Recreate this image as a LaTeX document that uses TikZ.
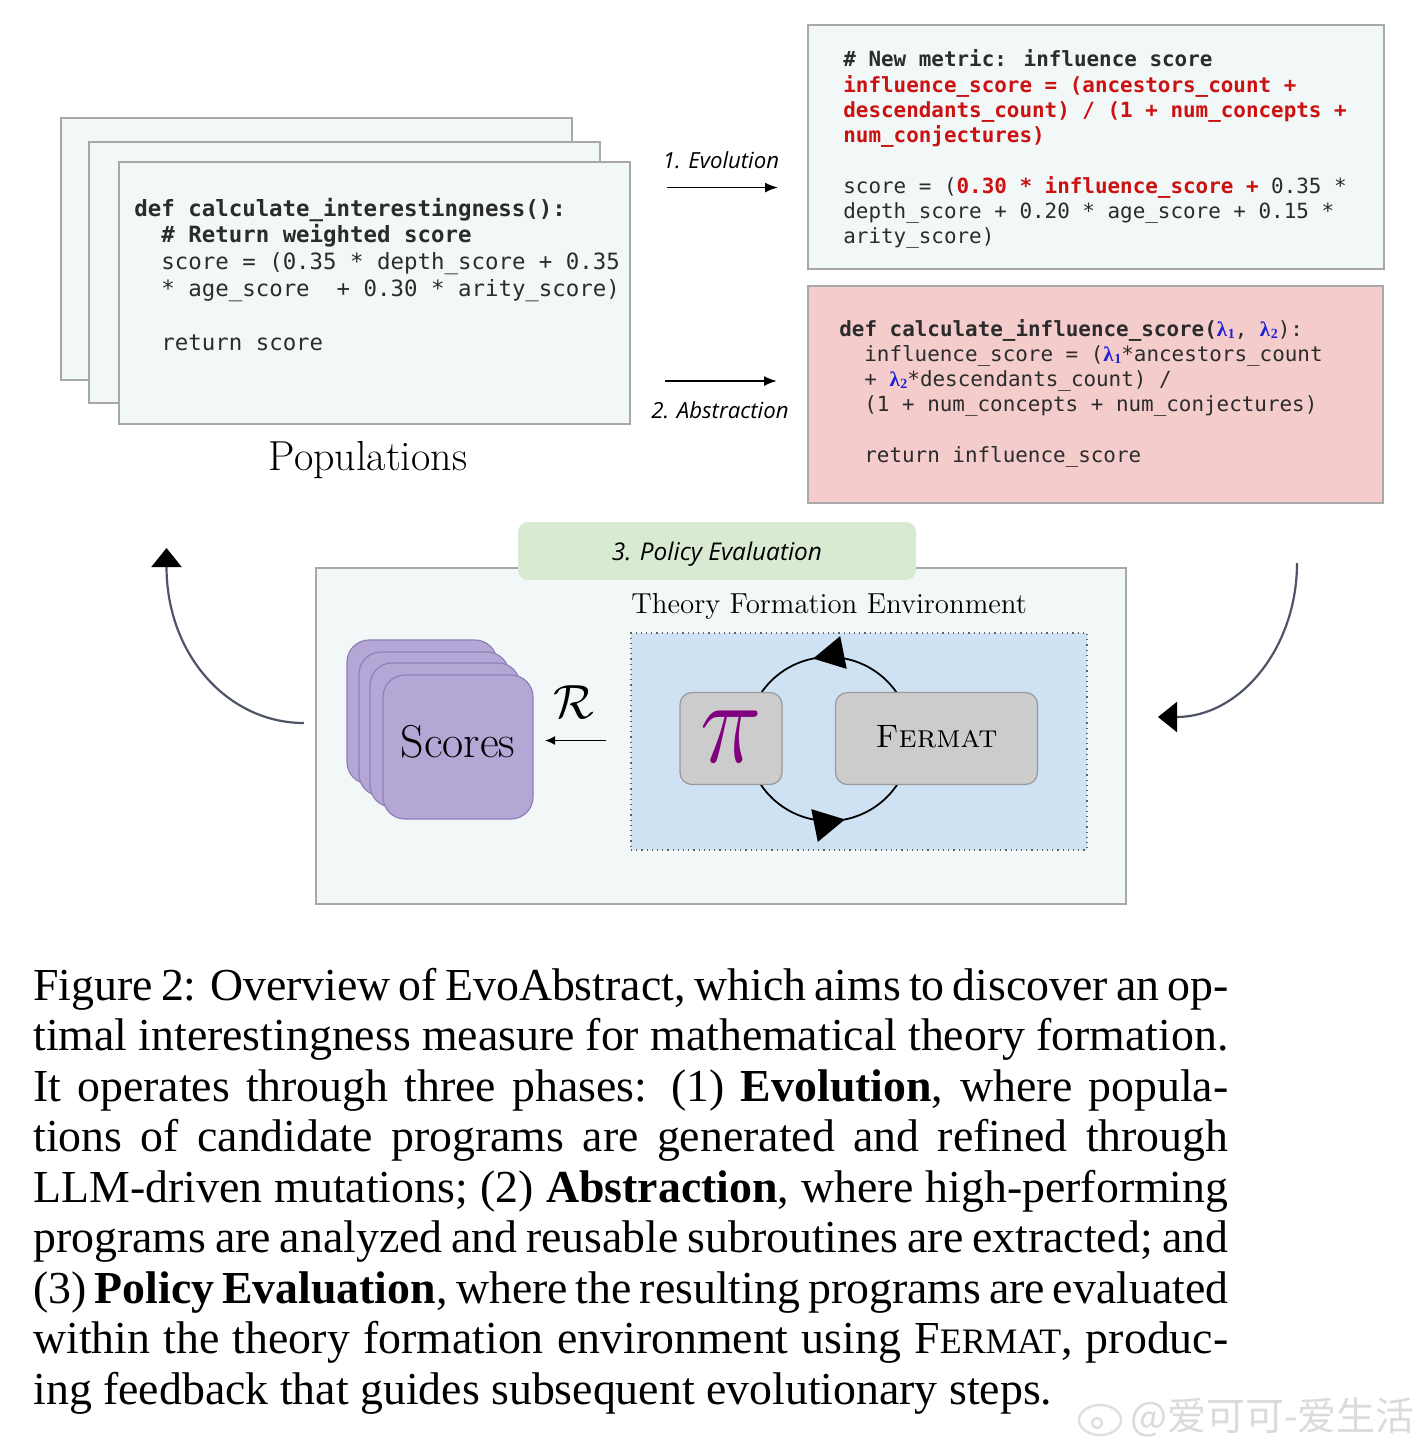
\RequirePackage{fix-cm}
\documentclass[tikz,border=0pt]{standalone}
\usepackage{fontspec}
\usepackage{amsmath}
\usepackage{graphicx}
\usetikzlibrary{arrows.meta,decorations.markings}
\newfontfamily\codefont{DejaVu Sans Mono}
\newfontfamily\labfont{Open Sans}
\newfontfamily\capfont{Liberation Serif}
\newfontfamily\cjkfont{Noto Sans CJK SC}
\definecolor{codebg}{HTML}{F2F7F7}
\definecolor{boxline}{HTML}{A8A8A8}
\definecolor{redbg}{HTML}{F4CCCC}
\definecolor{greenbg}{HTML}{D9EAD3}
\definecolor{bluebg}{HTML}{CFE2F3}
\definecolor{graybox}{HTML}{CCCCCC}
\definecolor{grayline}{HTML}{999999}
\definecolor{purplebg}{HTML}{B4A7D6}
\definecolor{purpleline}{HTML}{8F80B8}
\definecolor{codered}{HTML}{CC1111}
\definecolor{lamblue}{HTML}{1F1FD6}
\definecolor{pipurple}{HTML}{800080}
\definecolor{curvecol}{HTML}{4D5566}
\definecolor{codetext}{HTML}{2B2B2B}
\definecolor{dotline}{HTML}{606060}
\newcommand\lamsub[1]{\textcolor{lamblue}{{\capfont\bfseries λ}\kern0.3pt\raisebox{-0.2ex}{\capfont\bfseries\fontsize{7}{7}\selectfont #1}}}
\newcommand\lamA{\lamsub{1}}
\newcommand\lamB{\lamsub{2}}
\newcommand\rb[1]{\textcolor{codered}{\textbf{#1}}}
\newcommand\jl[1]{\makebox[597.5pt][s]{#1}}
\tikzset{
  codebox/.style={draw=boxline, fill=codebg, line width=0.75pt, rectangle, inner sep=0pt, outer sep=0pt, anchor=north west},
  codeA/.style={anchor=base west, inner sep=0pt, text=codetext, font=\codefont\fontsize{11.2}{13}\selectfont},
  codeB/.style={anchor=base west, inner sep=0pt, text=codetext, font=\codefont\fontsize{10.45}{12}\selectfont},
  lab/.style={anchor=base, inner sep=0pt, font=\labfont\itshape\fontsize{11.1}{13}\selectfont},
  flow/.style={-{Latex[length=6.5pt,width=5pt]}, line width=0.9pt},
  grayrnd/.style={draw=grayline, fill=graybox, line width=0.6pt, rounded corners=6pt, inner sep=0pt, outer sep=0pt, minimum height=46pt},
  scorebox/.style={draw=purpleline, fill=purplebg, line width=0.6pt, rounded corners=11pt, anchor=north west, inner sep=0pt, outer sep=0pt, minimum width=75pt, minimum height=72pt},
  curvearrow/.style={draw=curvecol, line width=1.1pt, -{Triangle[length=9.5pt,width=15pt,color=black]}},
  looparc/.style={draw=black, line width=0.9pt, postaction=decorate,
    decoration={markings, mark=at position 0.58 with {\arrow{Triangle[length=15.5pt,width=16.5pt]}}}},
  capline/.style={anchor=base west, inner sep=0pt, font=\capfont\fontsize{22.9}{25}\selectfont}
}
\begin{document}
\begin{tikzpicture}[x=0.5pt,y=0.5pt]
\path[fill=white] (0,0) rectangle (1422,-1448);
\useasboundingbox (0,0) rectangle (1422,-1448);

% Populations stack
\node[codebox, minimum width=255.5pt, minimum height=131pt] (pop3) at (61,-118) {};
\node[codebox, minimum width=255.5pt, minimum height=130.5pt] (pop2) at (89,-142) {};
\node[codebox, minimum width=255.5pt, minimum height=131pt] (pop1) at (119,-162) {};
\node[codeA] (tl1) at (134,-216) {\textbf{def calculate\_interestingness():}};
\node[codeA] (tl2) at (161,-242) {\textbf{\# Return weighted score}};
\node[codeA] (tl3) at (161,-269) {score = (0.35 * depth\_score + 0.35};
\node[codeA] (tl4) at (161,-296) {* age\_score~ + 0.30 * arity\_score)};
\node[codeA] (tl5) at (161,-350) {return score};
\node[inner sep=0pt, font=\fontsize{21}{24}\selectfont] (poplabel) at (368,-460) {Populations};

% Evolution box
\node[codebox, minimum width=288pt, minimum height=122pt] (evo) at (808,-25) {};
\node[codeB] (tr1) at (843,-66.5) {\textbf{\# New metric: influence score}};
\node[codeB] (tr2) at (843,-92) {\rb{influence\_score = (ancestors\_count +}};
\node[codeB] (tr3) at (843,-117) {\rb{descendants\_count) / (1 + num\_concepts +}};
\node[codeB] (tr4) at (843,-142.5) {\rb{num\_conjectures)}};
\node[codeB] (tr5) at (843,-193) {score = (\rb{0.30 * influence\_score +} 0.35 *};
\node[codeB] (tr6) at (843,-218.5) {depth\_score + 0.20 * age\_score + 0.15 *};
\node[codeB] (tr7) at (843,-243.5) {arity\_score)};

% Abstraction box
\node[codebox, fill=redbg, minimum width=287.5pt, minimum height=108.5pt] (abs) at (808,-286) {};
\node[codeB] (ab1) at (839,-336.5) {\textbf{def calculate\_influence\_score(}\lamA, \lamB):};
\node[codeB] (ab2) at (864,-361.5) {influence\_score = (\lamA*ancestors\_count};
\node[codeB] (ab3) at (864,-386.5) {+ \lamB*descendants\_count) /};
\node[codeB] (ab4) at (864,-411.5) {(1 + num\_concepts + num\_conjectures)};
\node[codeB] (ab5) at (864,-462.5) {return influence\_score};

% phase arrows
\coordinate (e1s) at (667,-187.5);
\coordinate (e1e) at (778,-187.5);
\draw[flow] (e1s) -- (e1e);
\node[lab] (evolab) at (721,-168) {1. Evolution};
\coordinate (a1s) at (665,-381);
\coordinate (a1e) at (777,-381);
\draw[flow] (a1s) -- (a1e);
\node[lab] (abslab) at (720,-418) {2. Abstraction};

% Environment
\node[codebox, minimum width=405pt, minimum height=168pt] (env) at (316,-568) {};
\node[fill=greenbg, rounded corners=5pt, anchor=north west, inner sep=0pt, outer sep=0pt, minimum width=199pt, minimum height=29pt] (pe) at (518,-522) {};
\node[lab, font=\labfont\itshape\fontsize{12.2}{14}\selectfont] (pelab) at (717,-560) {3. Policy Evaluation};
\node[anchor=base west, inner sep=0pt, font=\fontsize{14.45}{16}\selectfont] (tfe) at (631,-613) {Theory Formation Environment};
\node[draw=dotline, dotted, fill=bluebg, line width=0.6pt, anchor=north west, inner sep=0pt, outer sep=0pt, minimum width=228pt, minimum height=108.5pt] (dom) at (631,-633) {};

% loop
\coordinate (lc) at (829,-739);
\draw[looparc] (lc) ++(20:82) arc[start angle=20, end angle=160, radius=82];
\draw[looparc] (lc) ++(200:82) arc[start angle=200, end angle=340, radius=82];
\node[grayrnd, minimum width=51pt] (pibox) at (731,-738.5) {};
\node[inner sep=0pt, text=pipurple, font=\fontsize{52}{52}\selectfont] (pi) at (731,-737) {\scalebox{1}[1.15]{$\pi$}};
\node[grayrnd, minimum width=101pt] (fermat) at (936.5,-738.5) {};
\node[anchor=base, inner sep=0pt, font=\fontsize{16.2}{18}\selectfont] (fermattxt) at (936.5,-747) {\textsc{Fermat}};

% Scores
\node[scorebox] (sc4) at (347,-640) {};
\node[scorebox] (sc3) at (359,-652) {};
\node[scorebox] (sc2) at (370,-663) {};
\node[scorebox] (sc1) at (383,-675) {};
\node[anchor=base, inner sep=0pt, font=\fontsize{23}{26}\selectfont] (scoretxt) at (458,-757) {Scores};
\node[inner sep=0pt, font=\fontsize{24}{24}\selectfont] (rlab) at (574,-702) {$\mathcal{R}$};
\coordinate (rs) at (606,-740.5);
\coordinate (re) at (545,-740.5);
\draw[-{Latex[length=5pt,width=4.5pt]}, line width=0.8pt] (rs) -- (re);

% feedback curves
\coordinate (fbS) at (304,-723);
\coordinate (fbE) at (166.5,-548);
\draw[curvearrow] (fbS) .. controls (228,-723) and (166.5,-655) .. (fbE);
\coordinate (rbS) at (1297,-563);
\coordinate (rbE) at (1158,-717);
\draw[curvearrow] (rbS) .. controls (1297,-648) and (1240,-717) .. (rbE);

% caption
\node[capline] (cap1) at (33,-1000) {\jl{Figure 2: Overview of EvoAbstract, which aims to discover an op-}};
\node[capline] (cap2) at (33,-1050.5) {\jl{timal interestingness measure for mathematical theory formation.}};
\node[capline] (cap3) at (33,-1101) {\jl{It operates through three phases: (1) \textbf{Evolution}, where popula-}};
\node[capline] (cap4) at (33,-1151.5) {\jl{tions of candidate programs are generated and refined through}};
\node[capline] (cap5) at (33,-1202) {\jl{LLM-driven mutations; (2) \textbf{Abstraction}, where high-performing}};
\node[capline] (cap6) at (33,-1252.5) {\jl{programs are analyzed and reusable subroutines are extracted; and}};
\node[capline] (cap7) at (33,-1303) {\jl{(3) \textbf{Policy Evaluation}, where the resulting programs are evaluated}};
\node[capline] (cap8) at (33,-1353.5) {\jl{within the theory formation environment using F{\fontsize{17.9}{20}\selectfont ERMAT}, produc-}};
\node[capline] (cap9) at (33,-1404) {ing feedback that guides subsequent evolutionary steps.};

% watermark
\draw[gray!25, line width=1.2pt] (1100,-1420) ellipse [x radius=21, y radius=15];
\draw[gray!25, line width=1.2pt] (1097,-1423) circle [radius=5];
\node[anchor=base west, inner sep=0pt, text=gray!28, font=\cjkfont\fontsize{19.5}{22}\selectfont] (wm) at (1130,-1430) {@爱可可-爱生活};
\end{tikzpicture}
\end{document}
